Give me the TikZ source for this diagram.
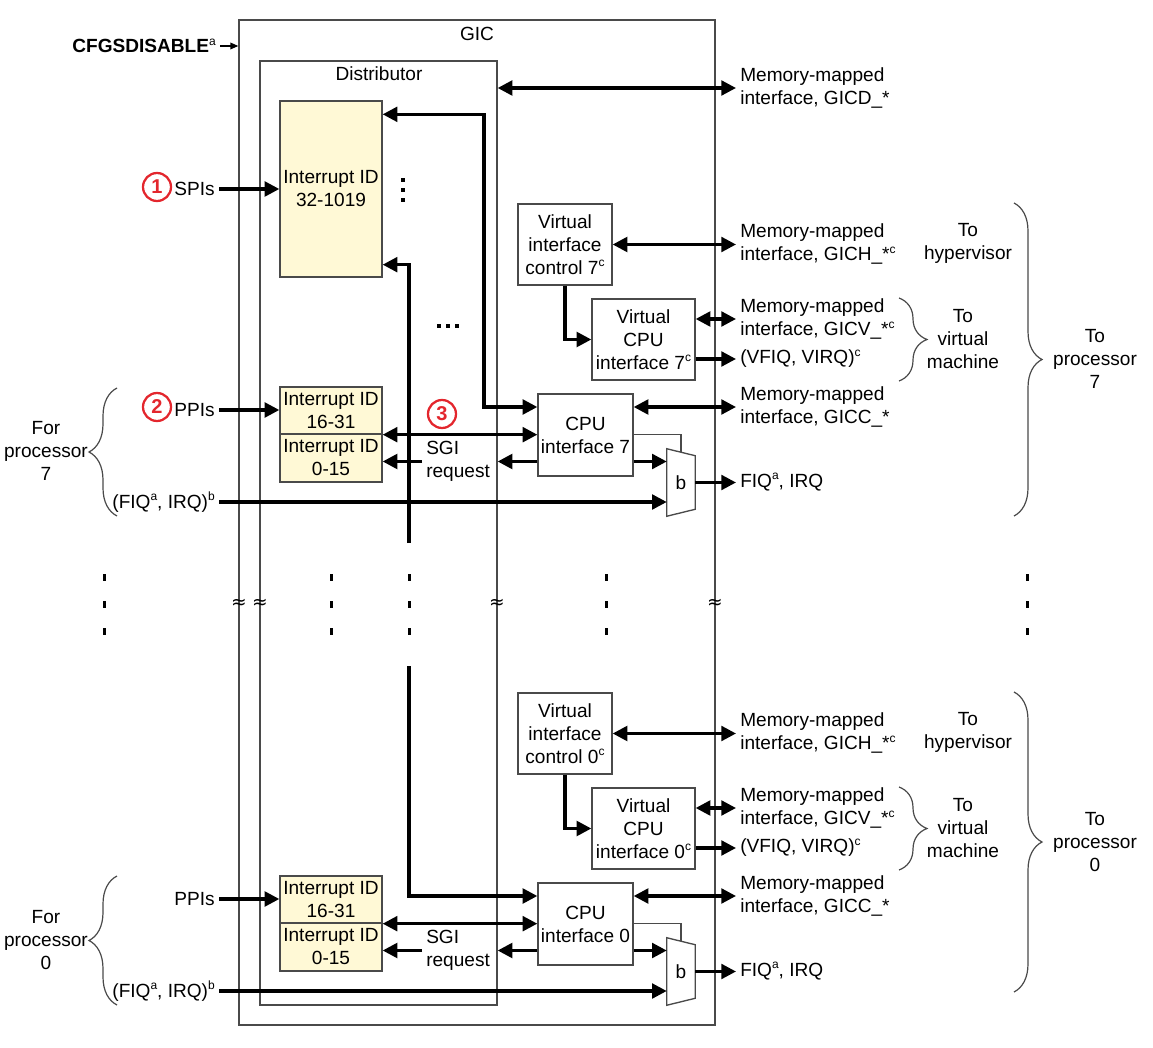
\documentclass[tikz,border=0pt]{standalone}
\usepackage{fontspec}
\setmainfont{Liberation Sans}
\newfontfamily\breakfont{DejaVu Sans}
\usetikzlibrary{arrows.meta,calc,decorations.pathreplacing}

\definecolor{GicGray}{HTML}{4a4a4a}
\definecolor{GicYellow}{HTML}{fff9d6}
\definecolor{GicRed}{HTML}{e3262d}

\newcommand{\supmark}[1]{\raisebox{5.5pt}{\fontsize{9pt}{9pt}\selectfont #1}}

\tikzstyle{frame-box}=[draw=GicGray, line width=1pt, inner sep=0pt]
\tikzstyle{frame-line}=[draw=GicGray, line width=1pt]
\tikzstyle{id-box}=[frame-box, fill=GicYellow, align=center, minimum width=76.5pt]
\tikzstyle{unit-box}=[frame-box, align=center]
\tikzstyle{mux-slot}=[inner sep=0pt, minimum width=21pt, minimum height=50.25pt]
\tikzstyle{port-label}=[anchor=west, inner xsep=3pt, inner ysep=0pt, align=left]
\tikzstyle{in-label}=[anchor=east, inner xsep=3pt, inner ysep=0pt, align=right]
\tikzstyle{note-label}=[inner sep=0pt, align=center]
\tikzstyle{bus-line}=[line width=2.4pt]
\tikzstyle{thin-arrow}=[line width=1pt, -{Triangle[length=6pt, width=5pt]}]
\tikzstyle{num-mark}=[circle, draw=GicRed, line width=1.7pt, text=GicRed, inner sep=0pt, minimum size=21pt]
\tikzstyle{break-mark}=[inner sep=0pt, font=\breakfont\fontsize{14pt}{14pt}\selectfont]
\tikzstyle{side-brace}=[draw=GicGray, line width=0.9pt, decorate, decoration={brace, amplitude=21pt}]

\begin{document}
\begin{tikzpicture}[x=0.75pt, y=-0.75pt, font=\fontsize{14.3pt}{17.25pt}\selectfont,
    >={Triangle[length=11pt, width=11pt]}]
  \useasboundingbox (0,0) rectangle (1153,1048);

  % frames
  \node (box-gic) at (477, 522.5) [frame-box, minimum width=357pt, minimum height=753.75pt] {};
  \node (box-dist) at (378.5, 533) [frame-box, minimum width=177.75pt, minimum height=708pt] {};
  \node (title-gic) at (477, 34) {GIC};
  \node (title-dist) at (379, 74) {Distributor};
  \node (label-cfg) at (220, 46) [in-label] {\textbf{CFGSDISABLE}\supmark{a}};
  \draw[thin-arrow] (label-cfg.east) -- (label-cfg.east -| box-gic.west);
  \node (port-gicd) at (736, 88) [port-label] {Memory-mapped\\interface, GICD\_*};
  \draw[bus-line, <->] (box-dist.east |- port-gicd.west) -- (port-gicd.west);

  % shared interrupts
  \node (id-spi) at (331, 189) [id-box, minimum height=132pt] {Interrupt ID\\32-1019};
  \node (label-spi) at (219, 189) [in-label] {SPIs};
  \node (mark-1) at (157, 187) [num-mark] {\fontsize{15pt}{15pt}\selectfont\textbf{1}};
  \draw[bus-line, ->] (label-spi.east) -- (id-spi.west);
  \foreach \py in {180, 190, 200}
    \fill (400.5, \py-2) rectangle (404.5, \py+2);
  \foreach \px in {439, 448, 457}
    \fill (\px-2, 324) rectangle (\px+2, 328);

  % processor 7
  \node (vic-7) at (565, 244.5) [unit-box, minimum width=70.5pt, minimum height=60.75pt] {Virtual\\interface\\control 7\supmark{c}};
  \node (vcpu-7) at (643.5, 339.5) [unit-box, minimum width=77.25pt, minimum height=60.75pt] {Virtual\\CPU\\interface 7\supmark{c}};
  \node (cpu-7) at (585.5, 435) [unit-box, minimum width=71.25pt, minimum height=61.5pt] {CPU\\interface 7};
  \node (id-ppi7) at (331, 410.5) [id-box, minimum height=35.25pt] {Interrupt ID\\16-31};
  \node (id-sgi7) at (331, 458) [id-box, minimum height=36pt] {Interrupt ID\\0-15};
  \node (mux-7) at (681, 482.5) [mux-slot] {b};
  \draw[frame-line] (mux-7.north west) -- (mux-7.south west) -- ($(mux-7.south east)+(0,-7)$)
    -- ($(mux-7.north east)+(0,7)$) -- cycle;

  \node (label-ppi7) at (219, 410) [in-label] {PPIs};
  \node (mark-2) at (157, 407) [num-mark] {\fontsize{15pt}{15pt}\selectfont\textbf{2}};
  \node (mark-3) at (442, 414) [num-mark] {\fontsize{15pt}{15pt}\selectfont\textbf{3}};
  \node (label-fiqb7) at (219, 502) [in-label] {(FIQ\supmark{a}, IRQ)\supmark{b}};
  \node (label-sgi7) at (422, 461.5) [port-label] {SGI\\request};
  \node (port-gich7) at (736, 244) [port-label] {Memory-mapped\\interface, GICH\_*\supmark{c}};
  \node (port-gicv7) at (736, 319) [port-label] {Memory-mapped\\interface, GICV\_*\supmark{c}};
  \node (port-vfiq7) at (736, 359) [port-label] {(VFIQ, VIRQ)\supmark{c}};
  \node (port-gicc7) at (736, 407) [port-label] {Memory-mapped\\interface, GICC\_*};
  \node (port-fiq7) at (736, 482) [port-label] {FIQ\supmark{a}, IRQ};

  \coordinate (bend-7) at (484, 407);
  \coordinate (bus-top) at (409, 543);
  \draw[bus-line, <->] ($(id-spi.north east)+(0,14)$) -| (bend-7) -- (cpu-7.west |- bend-7);
  \draw[bus-line, ->] (bus-top) |- ($(id-spi.south east)+(0,-13)$);
  \draw[bus-line, <->] (vic-7.east) -- (vic-7.east -| port-gich7.west);
  \draw[bus-line, ->] (vic-7.south) |- (vcpu-7.west);
  \draw[bus-line, <->] (vcpu-7.east |- port-gicv7.west) -- (port-gicv7.west);
  \draw[bus-line, ->] (vcpu-7.east |- port-vfiq7.west) -- (port-vfiq7.west);
  \draw[bus-line, <->] (cpu-7.east |- port-gicc7.west) -- (port-gicc7.west);
  \draw[bus-line, ->] (label-ppi7.east) -- (id-ppi7.west |- label-ppi7.east);
  \draw[bus-line, <->] (id-ppi7.south east) -- (cpu-7.west |- id-ppi7.south east);
  \draw[bus-line, ->] (cpu-7.west |- label-sgi7.west) -- (box-dist.east |- label-sgi7.west);
  \draw[bus-line, ->] (label-sgi7.west) -- (id-sgi7.east |- label-sgi7.west);
  \draw[bus-line, ->] (cpu-7.east |- label-sgi7.west) -- (mux-7.west |- label-sgi7.west);
  \draw[frame-line] (cpu-7.east |- id-ppi7.south east) -| ($(mux-7.north)+(0,3.5)$);
  \draw[bus-line, ->] (mux-7.east) -- (mux-7.east -| port-fiq7.west);
  \draw[bus-line, ->] (label-fiqb7.east) -- (mux-7.west |- label-fiqb7.east);

  \node (note-for7) at (46, 451) [note-label] {For\\processor\\7};
  \node (note-hyp7) at (968, 243.5) [note-label] {To\\hypervisor};
  \node (note-vm7) at (963, 339) [note-label] {To\\virtual\\machine};
  \node (note-proc7) at (1095, 359) [note-label] {To\\processor\\7};
  \draw[side-brace] (117, 516) -- (117, 388);
  \draw[side-brace] (899, 298) -- (899, 381);
  \draw[side-brace] (1014, 203) -- (1014, 516);

  % break between the processors
  \foreach \px in {104, 331, 409, 606, 1027}
    \foreach \py in {577, 604, 631}
      \fill (\px-1.5, \py-3.5) rectangle (\px+1.5, \py+3.5);
  \node (break-gicl) at (239, 604) [break-mark] {≈};
  \node (break-distl) at (260, 604) [break-mark] {≈};
  \node (break-distr) at (497, 604) [break-mark] {≈};
  \node (break-gicr) at (715, 604) [break-mark] {≈};

  % processor 0
  \node (vic-0) at (565, 733.5) [unit-box, minimum width=70.5pt, minimum height=60.75pt] {Virtual\\interface\\control 0\supmark{c}};
  \node (vcpu-0) at (643.5, 828.5) [unit-box, minimum width=77.25pt, minimum height=60.75pt] {Virtual\\CPU\\interface 0\supmark{c}};
  \node (cpu-0) at (585.5, 924) [unit-box, minimum width=71.25pt, minimum height=61.5pt] {CPU\\interface 0};
  \node (id-ppi0) at (331, 899.5) [id-box, minimum height=35.25pt] {Interrupt ID\\16-31};
  \node (id-sgi0) at (331, 947) [id-box, minimum height=36pt] {Interrupt ID\\0-15};
  \node (mux-0) at (681, 971.5) [mux-slot] {b};
  \draw[frame-line] (mux-0.north west) -- (mux-0.south west) -- ($(mux-0.south east)+(0,-7)$)
    -- ($(mux-0.north east)+(0,7)$) -- cycle;

  \node (label-ppi0) at (219, 899) [in-label] {PPIs};
  \node (label-fiqb0) at (219, 991) [in-label] {(FIQ\supmark{a}, IRQ)\supmark{b}};
  \node (label-sgi0) at (422, 950.5) [port-label] {SGI\\request};
  \node (port-gich0) at (736, 733) [port-label] {Memory-mapped\\interface, GICH\_*\supmark{c}};
  \node (port-gicv0) at (736, 808) [port-label] {Memory-mapped\\interface, GICV\_*\supmark{c}};
  \node (port-vfiq0) at (736, 848) [port-label] {(VFIQ, VIRQ)\supmark{c}};
  \node (port-gicc0) at (736, 896) [port-label] {Memory-mapped\\interface, GICC\_*};
  \node (port-fiq0) at (736, 971) [port-label] {FIQ\supmark{a}, IRQ};

  \coordinate (bus-bottom) at (409, 666);
  \draw[bus-line, ->] (bus-bottom) |- (cpu-0.west |- port-gicc0.west);
  \draw[bus-line, <->] (vic-0.east) -- (vic-0.east -| port-gich0.west);
  \draw[bus-line, ->] (vic-0.south) |- (vcpu-0.west);
  \draw[bus-line, <->] (vcpu-0.east |- port-gicv0.west) -- (port-gicv0.west);
  \draw[bus-line, ->] (vcpu-0.east |- port-vfiq0.west) -- (port-vfiq0.west);
  \draw[bus-line, <->] (cpu-0.east |- port-gicc0.west) -- (port-gicc0.west);
  \draw[bus-line, ->] (label-ppi0.east) -- (id-ppi0.west |- label-ppi0.east);
  \draw[bus-line, <->] (id-ppi0.south east) -- (cpu-0.west |- id-ppi0.south east);
  \draw[bus-line, ->] (cpu-0.west |- label-sgi0.west) -- (box-dist.east |- label-sgi0.west);
  \draw[bus-line, ->] (label-sgi0.west) -- (id-sgi0.east |- label-sgi0.west);
  \draw[bus-line, ->] (cpu-0.east |- label-sgi0.west) -- (mux-0.west |- label-sgi0.west);
  \draw[frame-line] (cpu-0.east |- id-ppi0.south east) -| ($(mux-0.north)+(0,3.5)$);
  \draw[bus-line, ->] (mux-0.east) -- (mux-0.east -| port-fiq0.west);
  \draw[bus-line, ->] (label-fiqb0.east) -- (mux-0.west |- label-fiqb0.east);

  \node (note-for0) at (46, 940) [note-label] {For\\processor\\0};
  \node (note-hyp0) at (968, 732.5) [note-label] {To\\hypervisor};
  \node (note-vm0) at (963, 828) [note-label] {To\\virtual\\machine};
  \node (note-proc0) at (1095, 842) [note-label] {To\\processor\\0};
  \draw[side-brace] (117, 1005) -- (117, 876);
  \draw[side-brace] (899, 787) -- (899, 870);
  \draw[side-brace] (1014, 692) -- (1014, 992);
\end{tikzpicture}
\end{document}
